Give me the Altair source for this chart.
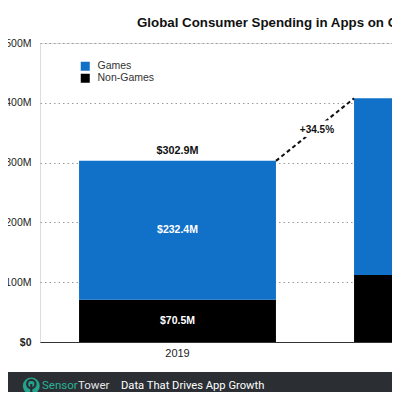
import altair as alt
import pandas as pd

# ---- data ----
years = ["2019", "2020"]
games = [232.4, 295.5]
non_games = [70.5, 111.9]
totals = [302.9, 407.4]
growth_label = "+34.5%"
categories = ["Games", "Non-Games"]
colors = ["#1170C8", "#000000"]
y_ticks = [0, 100, 200, 300, 400, 500]
title_text = "Global Consumer Spending in Apps on Christmas Day"
brand_a = ["Sensor"]
brand_b = ["Tower"]
tagline = ["Data That Drives App Growth"]

rows = []
for i, yr in enumerate(years):
    base = 0.0
    for cat, vals, order in [("Non-Games", non_games, 0), ("Games", games, 1)]:
        v = vals[i]
        rows.append(dict(year=yr, cat=cat, start=base, end=base + v,
                         mid=base + v / 2, order=order, label=f"${v:.1f}M"))
        base += v
seg = pd.DataFrame(rows)
tot = pd.DataFrame(dict(year=years, total=totals,
                        label=[f"${t:.1f}M" for t in totals]))
conn = pd.DataFrame(dict(ya=[years[0]], yb=[years[1]], va=[totals[0]],
                         vb=[totals[1]], mid=[(totals[0] + totals[1]) / 2],
                         label=[growth_label]))
one = pd.DataFrame(dict(a=[0]))

FONT = "Liberation Sans"
xscale = alt.Scale(domain=years, range=[0, 550], paddingInner=0.284, paddingOuter=0.142)
yscale = alt.Scale(domain=[0, 500], nice=False)

x_axis = alt.Axis(title=None, labelAngle=0, ticks=False, tickSize=0, domain=True,
                  domainColor="#333333", domainWidth=1.2, labelPadding=5,
                  labelFontSize=11, labelFont=FONT, labelColor="#222222", grid=False)
y_axis = alt.Axis(title=None, values=y_ticks, domain=False, ticks=False, tickSize=0,
                  labelExpr="datum.value == 0 ? '$0' : '$' + datum.value + 'M'",
                  labelFontWeight={"condition": {"test": "datum.value == 0", "value": "bold"}, "value": "normal"},
                  labelPadding=9, labelFontSize=10.5, labelFont=FONT, labelColor="#222222",
                  grid=True, gridDash=[1.5, 3], gridColor="#9a9a9a", gridWidth=1.2)

bars = alt.Chart(seg).mark_bar().encode(
    x=alt.X("year:N", scale=xscale, axis=x_axis),
    y=alt.Y("start:Q", scale=yscale, axis=y_axis),
    y2="end:Q",
    color=alt.Color("cat:N", scale=alt.Scale(domain=categories, range=colors),
                    legend=alt.Legend(orient="none", legendX=40, legendY=18, title=None,
                                      symbolType="square", symbolSize=81, symbolStrokeWidth=0,
                                      labelFontSize=10.5, labelFont=FONT, labelColor="#333333",
                                      rowPadding=1, labelOffset=7, padding=0)),
)

seg_text = alt.Chart(seg).mark_text(color="white", fontSize=10.5, font=FONT,
                                    fontWeight="bold", baseline="middle").encode(
    x=alt.X("year:N", scale=xscale), y=alt.Y("mid:Q", scale=yscale), text="label:N")

tot_text = alt.Chart(tot).mark_text(color="#111111", fontSize=10.8, font=FONT,
                                    fontWeight="bold", baseline="middle", dy=-10).encode(
    x=alt.X("year:N", scale=xscale), y=alt.Y("total:Q", scale=yscale), text="label:N")

connector = alt.Chart(conn).mark_rule(color="#111111", strokeWidth=2, strokeDash=[4, 3]).encode(
    x=alt.X("ya:N", scale=xscale, bandPosition=1),
    x2=alt.X2("yb:N", bandPosition=0),
    y=alt.Y("va:Q", scale=yscale), y2="vb:Q")

halo = alt.Chart(conn).mark_text(color="white", stroke="white", strokeWidth=9, strokeJoin="round",
                                 fontSize=10, font=FONT, fontWeight="bold", dx=41,
                                 baseline="middle").encode(
    x=alt.X("ya:N", scale=xscale, bandPosition=1), y=alt.Y("mid:Q", scale=yscale), text="label:N")
growth = alt.Chart(conn).mark_text(color="#111111", fontSize=10, font=FONT, fontWeight="bold",
                                   dx=41, baseline="middle").encode(
    x=alt.X("ya:N", scale=xscale, bandPosition=1), y=alt.Y("mid:Q", scale=yscale), text="label:N")

# footer band (branding decoration)
footer = alt.Chart(one).mark_rect(color="#2b2f34").encode(
    x=alt.value(-40), x2=alt.value(400), y=alt.value(329), y2=alt.value(362))
logo = alt.Chart(one).mark_circle(color="#22a58c", opacity=1, size=285).encode(
    x=alt.value(-8.7), y=alt.value(343))
logo_ring = alt.Chart(one).mark_point(shape="circle", filled=False, stroke="#2b2f34",
                                      strokeWidth=2.2, size=70, opacity=1).encode(
    x=alt.value(-8.7), y=alt.value(341))
logo_stem = alt.Chart(one).mark_rule(color="#2b2f34", strokeWidth=2.2).encode(
    x=alt.value(-8.7), y=alt.value(341), y2=alt.value(352.5))
t_sensor = alt.Chart(pd.DataFrame(dict(t=brand_a))).mark_text(
    color="#27b396", fontSize=11.5, font="Roboto", align="left", baseline="middle").encode(
    x=alt.value(2), y=alt.value(342.5), text="t:N")
t_tower = alt.Chart(pd.DataFrame(dict(t=brand_b))).mark_text(
    color="#e6e6e6", fontSize=11.5, font="Roboto", align="left", baseline="middle").encode(
    x=alt.value(38), y=alt.value(342.5), text="t:N")
t_tag = alt.Chart(pd.DataFrame(dict(t=tagline))).mark_text(
    color="#ffffff", fontSize=11.2, font="Roboto", align="left", baseline="middle").encode(
    x=alt.value(81), y=alt.value(342.5), text="t:N")

chart = alt.layer(
    bars, seg_text, tot_text, connector, halo, growth,
    footer, logo, logo_ring, logo_stem, t_sensor, t_tower, t_tag,
).properties(
    width=352, height=299,
    autosize=alt.AutoSizeParams(type="none"),
    padding={"left": 32, "top": 35, "right": 0, "bottom": 50},
    title=alt.TitleParams(text=title_text, anchor="start", frame="group", dx=97, dy=18,
                          fontSize=13.3, font=FONT, fontWeight="bold", color="#111111",
                          baseline="alphabetic", offset=16),
).configure_view(stroke=None).configure(background="white")

chart.save("out.html", embed_options={"renderer": "svg", "actions": False})
